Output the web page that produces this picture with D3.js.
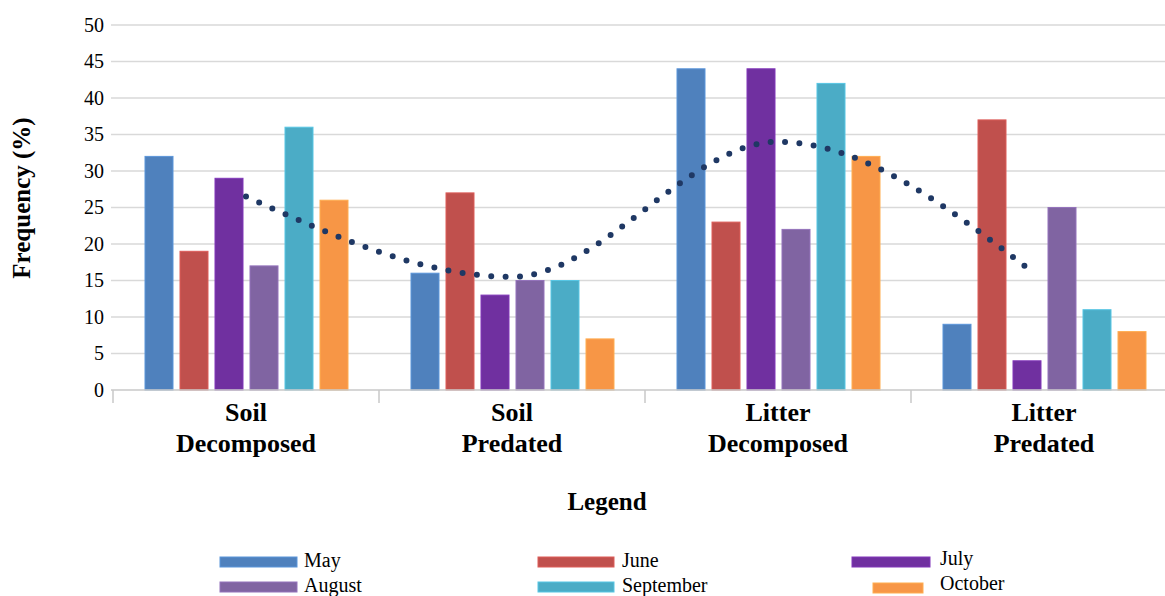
<!DOCTYPE html>
<html>
<head>
<meta charset="utf-8">
<script src="https://cdn.jsdelivr.net/npm/d3@7"></script>
<style>
  html, body { margin: 0; padding: 0; background: #fff; }
  svg { display: block; }
  text { font-family: "Liberation Serif", "Times New Roman", serif; fill: #000; }
</style>
</head>
<body>
<svg id="chart" width="1165" height="596"></svg>
<script>
const categories = [["Soil", "Decomposed"], ["Soil", "Predated"], ["Litter", "Decomposed"], ["Litter", "Predated"]];
const months = ["May", "June", "July", "August", "September", "October"];
const colors = ["#4f81bd", "#c0504d", "#7030a0", "#8064a2", "#4bacc6", "#f79646"];
const May = [32, 16, 44, 9];
const June = [19, 27, 23, 37];
const July = [29, 13, 44, 4];
const August = [17, 15, 22, 25];
const September = [36, 15, 42, 11];
const October = [26, 7, 32, 8];
const trend = [26.5, 15.5, 34, 16];
const yTicks = [0, 5, 10, 15, 20, 25, 30, 35, 40, 45, 50];

const series = [May, June, July, August, September, October];
const catKeys = categories.map(c => c.join(" "));

const svg = d3.select("#chart");

const x0 = d3.scaleBand().domain(catKeys).range([113, 1177]).paddingInner(0).paddingOuter(0);
const x1 = d3.scaleBand().domain(months).range([32, 235]).paddingInner(0.2).paddingOuter(0);
const y = d3.scaleLinear().domain([0, 50]).range([390, 25]);

// gridlines
svg.append("g").selectAll("line").data(yTicks.filter(t => t > 0)).join("line")
  .attr("x1", 111).attr("x2", 1165)
  .attr("y1", d => y(d)).attr("y2", d => y(d))
  .attr("stroke", "#d9d9d9").attr("stroke-width", 1.5);

// y tick labels
const yAxis = svg.append("g").attr("transform", "translate(111,0)")
  .call(d3.axisLeft(y).tickValues(yTicks).tickSize(0).tickPadding(7))
  .attr("font-family", "Liberation Serif").attr("font-size", 20);
yAxis.select(".domain").remove();
yAxis.selectAll("text").style("font-family", "'Liberation Serif', serif").style("font-size", "20px").attr("fill", "#000");

// bars
const groups = svg.append("g").selectAll("g").data(catKeys).join("g")
  .attr("transform", d => `translate(${x0(d)},0)`);
groups.selectAll("rect").data((d, ci) => months.map((m, mi) => ({ m, mi, v: series[mi][ci] })))
  .join("rect")
  .attr("x", d => x1(d.m))
  .attr("width", x1.bandwidth())
  .attr("y", d => y(d.v))
  .attr("height", d => y(0) - y(d.v))
  .attr("fill", d => colors[d.mi])
  .attr("stroke", d => d3.color(colors[d.mi]).brighter(0.4))
  .attr("stroke-width", 1);

// x axis line + ticks
const xAxis = svg.append("g").attr("transform", `translate(0,${y(0)})`);
xAxis.append("line").attr("x1", 111).attr("x2", 1165).attr("stroke", "#c8c8c8").attr("stroke-width", 1.5);
xAxis.selectAll("line.tk").data(catKeys).join("line").attr("class", "tk")
  .attr("x1", d => x0(d)).attr("x2", d => x0(d))
  .attr("y1", 0).attr("y2", 13)
  .attr("stroke", "#c8c8c8").attr("stroke-width", 1.5);

// category labels
const lab = svg.append("g").selectAll("text").data(categories).join("text")
  .attr("text-anchor", "middle")
  .style("font-size", "26px").style("font-weight", "bold")
  .attr("transform", (d, i) => `translate(${x0(catKeys[i]) + x0.bandwidth() / 2},0)`);
lab.append("tspan").attr("x", 0).attr("y", 421).text(d => d[0]);
lab.append("tspan").attr("x", 0).attr("y", 452).text(d => d[1]);

// trend dotted line
const line = d3.line()
  .x((d, i) => x0(catKeys[i]) + x0.bandwidth() / 2 - (i === 3 ? 10 : 0))
  .y(d => y(d))
  .curve(d3.curveMonotoneX);
svg.append("path").datum(trend)
  .attr("d", line)
  .attr("fill", "none")
  .attr("stroke", "#1f3864")
  .attr("stroke-width", 6)
  .attr("stroke-linecap", "round")
  .attr("stroke-dasharray", "0 14.4");

// y axis title
svg.append("text")
  .attr("transform", "translate(30,198) rotate(-90)")
  .attr("text-anchor", "middle")
  .style("font-size", "25px").style("font-weight", "bold")
  .text("Frequency (%)");

// legend title
svg.append("text")
  .attr("x", 607).attr("y", 510)
  .attr("text-anchor", "middle")
  .style("font-size", "25px").style("font-weight", "bold")
  .text("Legend");

// legend items
const legendPos = [
  { sx: 220, sw: 77, tx: 304, sy: 557, ty: 567 },
  { sx: 538, sw: 76, tx: 622, sy: 557, ty: 567 },
  { sx: 852, sw: 78, tx: 940, sy: 557, ty: 565 },
  { sx: 220, sw: 77, tx: 304, sy: 582, ty: 592 },
  { sx: 538, sw: 76, tx: 622, sy: 582, ty: 592 },
  { sx: 873, sw: 50, tx: 940, sy: 583, ty: 590 }
];
const leg = svg.append("g").selectAll("g").data(months).join("g");
leg.append("rect")
  .attr("x", (d, i) => legendPos[i].sx).attr("y", (d, i) => legendPos[i].sy)
  .attr("width", (d, i) => legendPos[i].sw).attr("height", 10)
  .attr("fill", (d, i) => colors[i])
  .attr("stroke", (d, i) => d3.color(colors[i]).brighter(0.4)).attr("stroke-width", 1);
leg.append("text")
  .attr("x", (d, i) => legendPos[i].tx).attr("y", (d, i) => legendPos[i].ty)
  .style("font-size", "20px")
  .text(d => d);
</script>
</body>
</html>
